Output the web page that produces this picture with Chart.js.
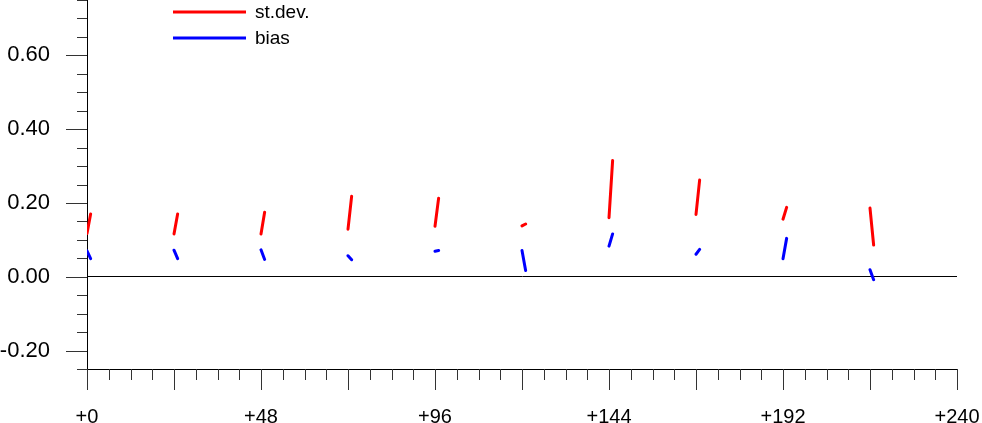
<!DOCTYPE html>
<html><head><meta charset="utf-8">
<script src="https://cdn.jsdelivr.net/npm/chart.js@4/dist/chart.umd.min.js"></script>
<style>html,body{margin:0;padding:0;background:#fff;overflow:hidden}#wrap{width:982px;height:423px;position:relative}</style>
</head><body><div id="wrap"><canvas id="c" width="982" height="423"></canvas></div>
<script>
const leadTimes   = [0, 24, 48, 72, 96, 120, 144, 168, 192, 216];
const stdDevStart = [0.117, 0.116, 0.116, 0.129, 0.137, 0.138, 0.160, 0.169, 0.156, 0.186];
const stdDevEnd   = [0.170, 0.170, 0.175, 0.218, 0.213, 0.143, 0.315, 0.262, 0.188, 0.086];
const biasStart   = [0.070, 0.072, 0.073, 0.057, 0.069, 0.071, 0.083, 0.061, 0.049, 0.019];
const biasEnd     = [0.049, 0.049, 0.047, 0.046, 0.071, 0.017, 0.116, 0.074, 0.104, -0.008];
const xTickValues = [0, 48, 96, 144, 192, 240];
const xTickLabels = ['+0', '+48', '+96', '+144', '+192', '+240'];
const yTickValues = [-0.2, 0, 0.2, 0.4, 0.6];
const yTickLabels = ['-0.20', '0.00', '0.20', '0.40', '0.60'];
const seriesLabels = ['st.dev.', 'bias'];
const seriesColors = ['#ff0000', '#0000ff'];
const segmentHours = 1;

function segments(starts, ends) {
  const pts = [];
  leadTimes.forEach((t, i) => {
    pts.push({x: t, y: starts[i]});
    pts.push({x: t + segmentHours, y: ends[i]});
    pts.push({x: t + segmentHours, y: null});
  });
  return pts;
}

const FONT = 'Liberation Sans, Arial, Helvetica, sans-serif';

function noPad(s) { s.paddingTop = 0; s.paddingBottom = 0; s.paddingLeft = 0; s.paddingRight = 0; }

const axisTicks = {
  id: 'axisTicks',
  afterDraw(chart) {
    const ctx = chart.ctx, xs = chart.scales.x, ys = chart.scales.y;
    const ca = chart.chartArea;
    ctx.save();
    ctx.strokeStyle = '#333';
    ctx.lineWidth = 1;
    for (let i = 0; i <= 40; i++) {
      const v = i * 6;
      const px = Math.round(xs.getPixelForValue(v)) + 0.5;
      const len = (v % 24 === 0) ? 21 : 11;
      ctx.beginPath(); ctx.moveTo(px, ca.bottom); ctx.lineTo(px, ca.bottom + len); ctx.stroke();
    }
    for (let i = -5; i <= 15; i++) {
      const v = i * 0.05;
      const py = Math.round(ys.getPixelForValue(v)) + 0.5;
      const len = (i % 4 === 0) ? 21 : 10;
      ctx.beginPath(); ctx.moveTo(ca.left, py); ctx.lineTo(ca.left - len, py); ctx.stroke();
    }
    // legend
    ctx.lineCap = 'butt';
    ctx.font = '19px ' + FONT;
    ctx.textBaseline = 'middle';
    ctx.textAlign = 'left';
    chart.data.datasets.forEach((ds, i) => {
      const y = 12 + i * 26;
      ctx.strokeStyle = ds.borderColor;
      ctx.lineWidth = 3;
      ctx.beginPath(); ctx.moveTo(173, y); ctx.lineTo(246, y); ctx.stroke();
      ctx.fillStyle = '#000';
      ctx.fillText(ds.label, 255, y + 1);
    });
    ctx.restore();
  }
};

new Chart(document.getElementById('c'), {
  type: 'line',
  data: {
    datasets: [
      {label: seriesLabels[0], data: segments(stdDevStart, stdDevEnd), borderColor: seriesColors[0], borderWidth: 3, borderCapStyle: 'round', pointRadius: 0, spanGaps: false, tension: 0},
      {label: seriesLabels[1], data: segments(biasStart, biasEnd), borderColor: seriesColors[1], borderWidth: 3, borderCapStyle: 'round', pointRadius: 0, spanGaps: false, tension: 0}
    ]
  },
  options: {
    responsive: false,
    animation: false,
    devicePixelRatio: 1,
    layout: {padding: {left: 0, right: 25, top: 0, bottom: 0}},
    plugins: {legend: {display: false}, tooltip: {enabled: false}},
    scales: {
      x: {
        type: 'linear', min: 0, max: 240,
        afterBuildTicks: s => { s.ticks = xTickValues.map(v => ({value: v})); },
        afterFit: s => { s.height = 54; noPad(s); },
        ticks: {callback: (v) => xTickLabels[xTickValues.indexOf(v)], color: '#000', font: {size: 20, family: FONT}, padding: 36, maxRotation: 0, autoSkip: false},
        grid: {display: false, drawTicks: false},
        border: {display: true, color: '#000', width: 1}
      },
      y: {
        type: 'linear', min: -0.25, max: 0.75,
        afterBuildTicks: s => { s.ticks = yTickValues.map(v => ({value: v})); },
        afterFit: s => { s.width = 87; noPad(s); },
        ticks: {callback: (v) => yTickLabels[yTickValues.findIndex(t => Math.abs(t - v) < 1e-9)], color: '#000', font: {size: 22, family: FONT}, padding: 37, autoSkip: false},
        grid: {display: true, drawTicks: false, color: c => (c.tick && Math.abs(c.tick.value) < 1e-9) ? '#000' : 'rgba(0,0,0,0)', lineWidth: 1},
        border: {display: true, color: '#000', width: 1}
      }
    }
  },
  plugins: [axisTicks]
});
</script>
</body></html>
